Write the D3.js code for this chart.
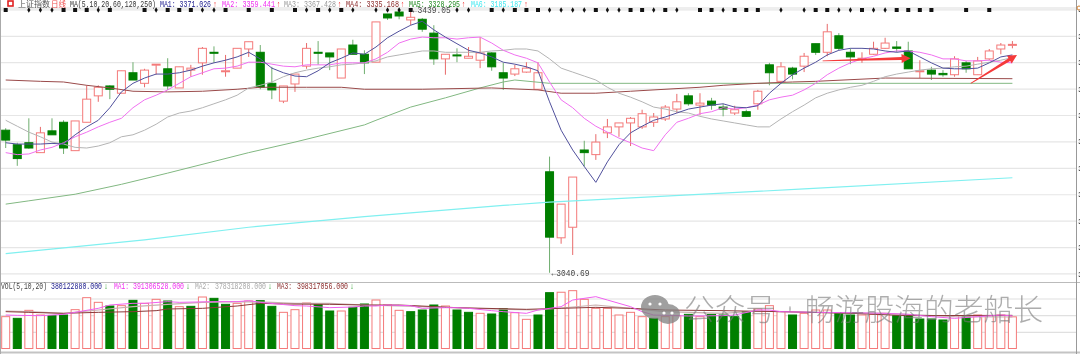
<!DOCTYPE html>
<html>
<head>
<meta charset="utf-8">
<script src="https://cdn.jsdelivr.net/npm/d3@7"></script>
<style>
html,body{margin:0;padding:0;background:#fff;overflow:hidden}
svg{display:block;filter:blur(.45px)}
text{font-family:"Liberation Mono","DejaVu Sans Mono",monospace}
</style>
</head>
<body>
<svg id="chart" width="1080" height="354"></svg>
<script>
// daily candles, index points
const open_p = [3257,3235,3238,3223,3256,3269,3226,3269,3309,3324,3313,3344,3328,3356,3350,3321,3348,3359,3375,3346,3351,3380,3375,3328,3301,3327,3354,3375,3374,3336,
3386,3372,3360,3433,3436,3424,3425,3404,3365,3371,3366,3363,3374,3344,3342,3345,3319,3194,3094,3110,3227,3220,3253,3262,3268,3262,3269,3274,3289,3309,
3295,3301,3292,3283,3285,3297,3356,3331,3351,3354,3388,3375,3400,3375,3365,3372,3381,3383,3377,3346,3348,3343,3341,3359,3341,3365,3380,3386];
const close_p = [3242,3214,3230,3253,3250,3230,3271,3304,3322,3319,3347,3333,3348,3357,3324,3353,3351,3381,3374,3347,3381,3391,3322,3318,3324,3342,3381,3374,3368,3380,
3372,3359,3421,3427,3430,3428,3410,3365,3372,3370,3369,3374,3353,3336,3350,3351,3344,3095,3145,3186,3223,3239,3262,3268,3275,3282,3277,3292,3300,3297,
3298,3295,3289,3288,3278,3316,3344,3353,3342,3369,3375,3406,3381,3368,3366,3381,3389,3381,3350,3347,3342,3341,3365,3350,3362,3377,3386,3387];
const high_p = [3260,3238,3275,3262,3275,3272,3271,3325,3325,3325,3347,3360,3350,3357,3366,3353,3356,3383,3384,3371,3381,3391,3386,3353,3324,3342,3389,3392,3374,3380,
3394,3378,3421,3433,3442,3439,3427,3416,3372,3381,3383,3398,3375,3359,3356,3360,3360,3217,3145,3186,3241,3251,3274,3268,3277,3288,3283,3295,3312,3313,
3313,3306,3297,3294,3288,3318,3359,3360,3353,3374,3388,3418,3404,3381,3375,3391,3397,3392,3391,3363,3353,3348,3369,3362,3368,3380,3389,3392];
const low_p = [3230,3203,3229,3223,3250,3221,3226,3269,3300,3304,3313,3333,3322,3341,3318,3321,3338,3341,3359,3338,3351,3368,3319,3304,3298,3315,3350,3356,3348,3336,
3372,3342,3360,3424,3425,3416,3406,3356,3341,3360,3366,3351,3347,3318,3339,3344,3318,3041,3085,3068,3202,3212,3245,3247,3233,3259,3262,3271,3283,3294,
3280,3288,3278,3280,3277,3288,3325,3328,3334,3345,3371,3369,3378,3357,3359,3371,3380,3375,3350,3336,3333,3338,3338,3344,3341,3363,3372,3381];

// moving averages
const ma1 = [3238,3236,3236,3236,3237,3236,3250,3262,3272,3291,3315,3328,3336,3342,3342,3344,3348,3354,3359,3363,
3368,3375,3365,3351,3344,3339,3338,3347,3359,3366,3374,3372,3383,3397,3407,3416,3422,3409,3398,3388,
3378,3374,3368,3360,3357,3353,3347,3300,3257,3227,3202,3178,3209,3235,3253,3263,3272,3277,3283,3289,
3292,3295,3297,3292,3291,3294,3313,3328,3341,3351,3360,3371,3378,3381,3381,3380,3377,3375,3377,3368,
3359,3351,3350,3350,3351,3359,3368,3371];
const ma2 = [3223,3220,3221,3227,3231,3238,3247,3254,3262,3269,3275,3291,3303,3310,3318,3328,3338,3344,3350,3351,
3354,3360,3360,3357,3354,3353,3356,3356,3356,3359,3359,3359,3365,3375,3389,3395,3398,3397,3397,3395,
3397,3398,3389,3378,3371,3366,3359,3330,3303,3291,3275,3263,3254,3245,3238,3230,3226,3250,3269,3275,
3282,3285,3291,3289,3291,3295,3303,3307,3310,3318,3328,3341,3351,3359,3365,3369,3374,3377,3377,3375,
3371,3365,3365,3362,3362,3363,3360,3359];
const ma3 = [3272,3263,3254,3247,3239,3236,3231,3230,3233,3238,3247,3250,3257,3266,3277,3283,3286,3291,3297,3303,
3310,3321,3325,3330,3338,3344,3348,3351,3353,3356,3357,3359,3362,3368,3371,3374,3377,3377,3375,3375,
3375,3375,3377,3378,3380,3380,3377,3365,3351,3345,3339,3333,3322,3313,3307,3300,3292,3289,3285,3283,
3278,3274,3271,3268,3265,3262,3262,3274,3285,3295,3306,3313,3318,3322,3325,3331,3338,3342,3345,3348,
3350,3351,3353,3354,3357,3360,3363,3367];
const ma4_idx = [0,3,5,7,9,11,14,17,20,22,26,29,31,36,42,46,48,51,54,60,62,65,68,70,76,87];
const ma4_val = [3333,3331,3330,3325,3321,3316,3315,3316,3319,3322,3322,3322,3319,3319,3321,3318,3313,3313,3316,3322,3325,3328,3330,3331,3336,3335];
const ma5_idx = [0,2,6,10,14,21,25,31,32,35,38,41,43,44,47,70,87];
const ma5_val = [3145,3150,3160,3175,3192,3223,3239,3265,3272,3292,3306,3321,3330,3333,3328,3328,3328];
const ma6_idx = [0,12,21,31,43,47,69,87];
const ma6_val = [3070,3091,3110,3126,3143,3148,3168,3185];

// volume, millions
const vol = [382,362,458,402,394,402,466,610,554,510,514,578,542,590,570,502,506,618,602,530,542,570,574,506,434,466,546,530,450,450,
494,534,582,522,458,442,462,522,510,462,434,422,414,478,430,350,402,670,675,694,590,482,482,402,434,382,362,382,394,410,
382,410,402,382,442,474,514,442,402,422,462,462,422,402,402,410,422,394,394,354,354,342,394,382,402,394,402,380];
const vol_up = [1,0,1,1,0,0,1,1,1,0,1,0,1,1,0,1,0,1,0,0,1,1,0,0,1,1,1,0,0,1,0,
0,1,1,1,0,0,0,1,0,0,1,0,0,1,1,0,0,1,1,1,1,1,1,1,1,0,1,1,0,1,0,
0,0,0,1,1,1,0,1,1,1,0,0,1,1,1,0,0,0,0,0,1,0,1,1,1,1];
const vma1_idx = [0,1,3,5,6,8,9,11,12,14,15,18,20,21,22,25,26,28,30,31,32,33,35,36,38,39,40,42,43,45,46,48,49,51,52,54,55,56,58,59,62,63,65,66,67,70,73,76,78,80,82,84,86,87];
const vma1_val = [402,398,394,410,434,482,522,542,542,562,554,562,562,574,554,514,510,490,498,510,510,522,514,482,490,490,482,454,442,422,462,502,582,622,582,502,442,402,394,390,394,402,462,462,442,434,430,422,410,382,362,382,402,391];
const vma2_idx = [0,2,5,8,11,14,17,20,23,25,28,31,36,42,46,51,54,57,62,65,70,76,82,87];
const vma2_val = [450,442,422,462,502,530,554,562,554,542,542,522,502,474,462,522,482,442,422,450,434,422,382,378];
const vma3_idx = [0,2,5,8,11,13,14,17,20,22,24,28,31,34,39,45,48,51,54,57,62,67,73,78,87];
const vma3_val = [442,434,422,434,442,454,474,482,510,542,534,530,522,522,490,470,482,494,482,462,454,442,422,394,398];

// little marks along the top edge
const top_squares = [0,5,6,7,9,12,14,15,16,19,21,23,25,27,29,35,42,44,45,46,51,54,55,57,60,61,63,64,65,70,71,74,77,78,79,80,83,85];
const top_thin = [2,3,4,8,13,17,18,26,28,30,32,33,34,39,40,43,47,48,49,50,52,53,56,58,62,67,69,72,73,75,76];

// price / volume grid
const price_ticks = d3.range(3040,3441,40);
const vol_ticks = [200,400,600];

// hand drawn arrows [index, price]
const arrows = [
    {from:[70.6,3362], to:[78.2,3366]},
    {from:[83.4,3328], to:[87.4,3371]}
];

const head_items = [
    {t:"上证指数", x:18, w:32, c:"#555", cjk:true},
    {t:"日线", x:51, w:15, c:"#f05050", cjk:true},
    {t:"MA(5,10,20,60,120,250)", x:70, w:86, c:"#333"},
    {t:"MA1: 3371.026", x:160, w:51, c:"#202090"},
    {t:"↑", x:213, w:4, c:"#f03030"},
    {t:"MA2: 3359.441", x:222, w:53, c:"#f030f0"},
    {t:"↑", x:276.5, w:4, c:"#f03030"},
    {t:"MA3: 3367.428", x:284, w:52, c:"#999"},
    {t:"↑", x:337.5, w:4, c:"#f03030"},
    {t:"MA4: 3335.168", x:346, w:53, c:"#8b2a2a"},
    {t:"↑", x:400.5, w:4, c:"#f03030"},
    {t:"MA5: 3328.295", x:409, w:51, c:"#1f8a1f"},
    {t:"↑", x:461.5, w:4, c:"#f03030"},
    {t:"MA6: 3185.187", x:471, w:51, c:"#40e8f0"},
    {t:"↑", x:524, w:4, c:"#f03030"}
];
const vol_items = [
    {t:"VOL(5,10,20)", x:1, w:46, c:"#444"},
    {t:"380122880.000", x:51, w:51, c:"#202090"},
    {t:"↓", x:104, w:4, c:"#109010"},
    {t:"MA1:", x:114, w:15, c:"#f030f0"},
    {t:"391306528.000", x:133, w:51, c:"#f030f0"},
    {t:"↓", x:186, w:4, c:"#109010"},
    {t:"MA2:", x:195, w:15, c:"#aaa"},
    {t:"378318208.000", x:215, w:51, c:"#aaa"},
    {t:"↓", x:268, w:4, c:"#109010"},
    {t:"MA3:", x:277, w:15, c:"#8b2a2a"},
    {t:"398317056.000", x:297, w:51, c:"#8b2a2a"},
    {t:"↓", x:350, w:4, c:"#109010"}
];

const width = 1080, height = 354;
const bar_w = 8;
const red_line = "#f47a7a", red_wick = "#e86a6a", green_fill = "#007f00", green_wick = "#6fae6f";

const x = d3.scaleLinear().domain([0,87]).range([5.7,1012.4]);
const y = d3.scaleLinear().domain([3040.69,3439.05]).range([273,10]);
const yv = d3.scaleLinear().domain([0,600]).range([348.5,298.5]);

const svg = d3.select("#chart");

// grid lines
const grid = svg.append("g").attr("transform","translate(1076,0)")
    .call(d3.axisLeft(y).tickValues(price_ticks).tickSize(1076).tickFormat(""));
grid.select(".domain").remove();
grid.selectAll("line").attr("stroke","#e6e6e6").attr("stroke-width",1.2);

const vgrid = svg.append("g").attr("transform","translate(1076,0)")
    .call(d3.axisLeft(yv).tickValues(vol_ticks).tickSize(1076).tickFormat(""));
vgrid.select(".domain").remove();
vgrid.selectAll("line").attr("stroke","#e0e0e0").attr("stroke-width",1.2);

// axis labels are cut by the window edge
const right_axis = svg.append("g").attr("transform","translate(1076,0)")
    .call(d3.axisRight(y).tickValues(price_ticks).tickSize(0).tickPadding(2).tickFormat(d3.format(".2f")));
right_axis.select(".domain").remove();
right_axis.selectAll("text").attr("font-size",8).attr("fill","#222");

// frame
svg.append("line").attr("x1",0).attr("x2",width).attr("y1",8).attr("y2",8).attr("stroke","#ddd");
svg.append("line").attr("x1",0).attr("x2",width).attr("y1",282.5).attr("y2",282.5).attr("stroke","#bbb");
svg.append("line").attr("x1",0).attr("x2",width).attr("y1",352.5).attr("y2",352.5).attr("stroke","#c4c4c4").attr("stroke-width",2);
svg.append("line").attr("x1",.5).attr("x2",.5).attr("y1",0).attr("y2",height).attr("stroke","#aaa");
svg.append("line").attr("x1",1076.5).attr("x2",1076.5).attr("y1",0).attr("y2",height).attr("stroke","#999");
svg.append("circle").attr("cx",1079).attr("cy",8).attr("r",2).attr("fill","#fff").attr("stroke","#d08030");

// candles
const candle = svg.append("g").selectAll("g")
    .data(d3.range(open_p.length))
    .enter().append("g");

candle.append("line")
    .attr("x1",d => x(d)).attr("x2",d => x(d))
    .attr("y1",d => y(high_p[d])).attr("y2",d => y(low_p[d]))
    .attr("stroke",d => close_p[d] >= open_p[d] ? red_wick : green_wick);

candle.append("rect")
    .attr("x",d => x(d) - bar_w/2)
    .attr("width",bar_w)
    .attr("y",d => y(Math.max(open_p[d],close_p[d])))
    .attr("height",d => Math.max(1,Math.abs(y(open_p[d]) - y(close_p[d]))))
    .attr("fill",d => close_p[d] >= open_p[d] ? "#fff" : green_fill)
    .attr("stroke",d => close_p[d] >= open_p[d] ? red_line : green_fill);

// average lines
const full_line = d3.line().x((d,i) => x(i)).y(d => y(d));
const part_line = idx => d3.line().x((d,i) => x(idx[i])).y(d => y(d));

function add_path(d, color, w) {
    svg.append("path").attr("d",d).attr("fill","none").attr("stroke",color).attr("stroke-width",w);
}
add_path(part_line(ma6_idx)(ma6_val),"#80f0f0",1.2);
add_path(part_line(ma5_idx)(ma5_val),"#82b882",1);
add_path(part_line(ma4_idx)(ma4_val),"#9a4a4a",1);
add_path(full_line(ma3),"#b4b4b4",1);
add_path(full_line(ma2),"#f070f0",1);
add_path(full_line(ma1),"#50509c",1);

// volume
svg.append("g").selectAll("rect")
    .data(vol)
    .enter().append("rect")
    .attr("x",(d,i) => x(i) - bar_w/2)
    .attr("width",bar_w)
    .attr("y",d => yv(d))
    .attr("height",d => yv(0) - yv(d))
    .attr("fill",(d,i) => vol_up[i] ? "#fff" : green_fill)
    .attr("stroke",(d,i) => vol_up[i] ? red_line : green_fill);

const vline = idx => d3.line().x((d,i) => x(idx[i])).y(d => yv(d));
add_path(vline(vma2_idx)(vma2_val),"#c8b0b0",1.2);
add_path(vline(vma3_idx)(vma3_val),"#8b3a3a",1);
add_path(vline(vma1_idx)(vma1_val),"#f060f0",1);

// top marks
svg.append("g").selectAll("path")
    .data(top_squares)
    .enter().append("path")
    .attr("d",d3.symbol(d3.symbolSquare,16))
    .attr("transform",d => `translate(${x(d)},10)`)
    .attr("fill","#111");
svg.append("g").selectAll("path")
    .data(top_thin)
    .enter().append("path")
    .attr("d",d3.symbol(d3.symbolDiamond,9))
    .attr("transform",d => `translate(${x(d)},10)`)
    .attr("fill","#111");

// red arrows
arrows.forEach(function(a) {
    const x0 = x(a.from[0]), y0 = y(a.from[1]), x1 = x(a.to[0]), y1 = y(a.to[1]);
    const len = Math.hypot(x1-x0,y1-y0), ux = (x1-x0)/len, uy = (y1-y0)/len;
    const nx = -uy, ny = ux, neck = len - 9;
    const pts = [
        [x0 + nx*.4, y0 + ny*.4],
        [x0 + ux*neck + nx*1.6, y0 + uy*neck + ny*1.6],
        [x0 + ux*neck + nx*4.5, y0 + uy*neck + ny*4.5],
        [x1, y1],
        [x0 + ux*neck - nx*4.5, y0 + uy*neck - ny*4.5],
        [x0 + ux*neck - nx*1.6, y0 + uy*neck - ny*1.6],
        [x0 - nx*.4, y0 - ny*.4]
    ];
    svg.append("path").attr("d",d3.line()(pts) + "Z").attr("fill","#f53a3a");
});

// header text
svg.append("rect").attr("x",8).attr("y",1).attr("width",5).attr("height",5)
    .attr("fill","#fff").attr("stroke","#e02020").attr("stroke-width",1.6);
function add_items(items, base) {
    svg.append("g").selectAll("text")
        .data(items)
        .enter().append("text")
        .attr("x",d => d.x)
        .attr("y",base)
        .attr("textLength",d => d.w)
        .attr("lengthAdjust","spacingAndGlyphs")
        .attr("font-size",d => d.cjk ? 8 : 8.5)
        .attr("fill",d => d.c)
        .style("font-family",d => d.cjk ? '"Noto Sans CJK SC"' : null)
        .text(d => d.t);
}
add_items(head_items,7);
add_items(vol_items,289);

// high / low marks
function add_mark(i, p, label) {
    svg.append("text").attr("x",x(i)+2).attr("y",y(p)+3)
        .attr("font-size",8.5).attr("fill","#444").attr("textLength",38)
        .attr("lengthAdjust","spacingAndGlyphs").text("←" + label);
}
add_mark(35,3439.05,"3439.05");
add_mark(47,3040.69,"3040.69");

// watermark
const mark = svg.append("g").attr("fill","#808080").attr("opacity",.75);
mark.append("ellipse").attr("cx",655).attr("cy",307).attr("rx",14).attr("ry",12);
mark.append("ellipse").attr("cx",668).attr("cy",314).attr("rx",12).attr("ry",10);
[[650,304],[660,304],[664,313],[672,313]].forEach(function(p) {
    svg.append("circle").attr("cx",p[0]).attr("cy",p[1]).attr("r",1.6).attr("fill","#fff");
});
const wm = [
    {t:"公众号", x:684, w:92},
    {t:"·", x:786, w:8},
    {t:"畅游股海的老船长", x:805, w:238}
];
svg.append("g").selectAll("text")
    .data(wm)
    .enter().append("text")
    .attr("x",d => d.x).attr("y",320)
    .attr("font-size",30).attr("fill","#777").attr("opacity",.6)
    .attr("textLength",d => d.w).attr("lengthAdjust","spacingAndGlyphs")
    .style("font-family",'"Noto Sans CJK SC"').style("font-weight",300)
    .text(d => d.t);
</script>
</body>
</html>
